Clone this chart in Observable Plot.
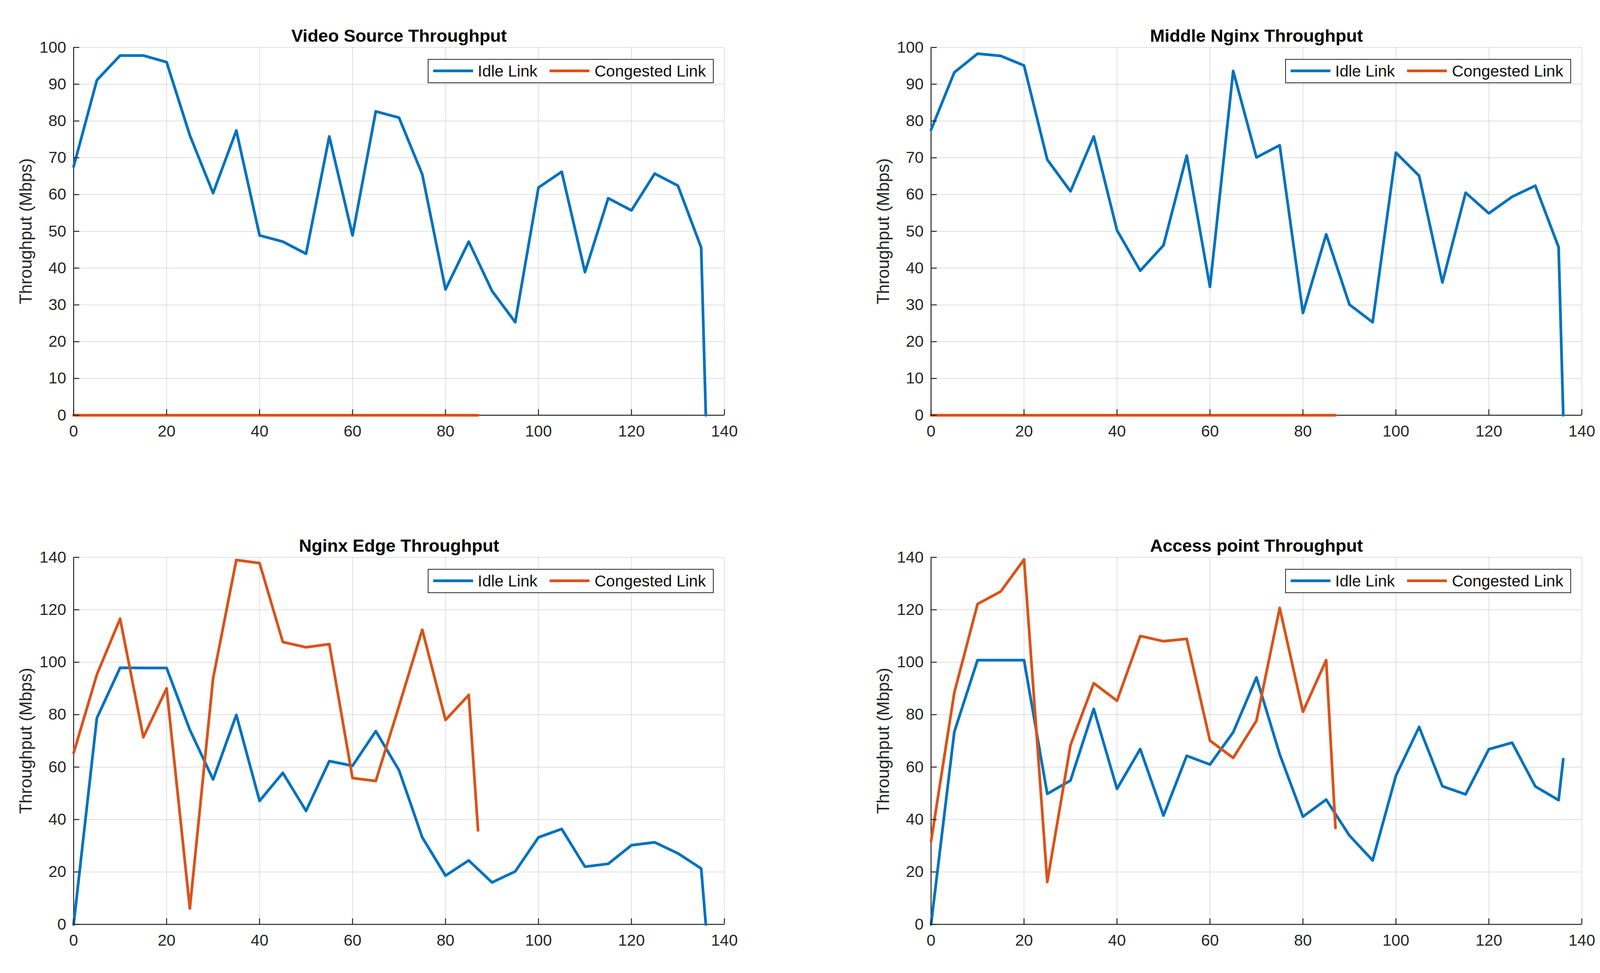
<!DOCTYPE html>
<html>
<head>
<meta charset="utf-8">
<script src="https://cdn.jsdelivr.net/npm/d3@7"></script>
<script src="https://cdn.jsdelivr.net/npm/@observablehq/plot@0.6"></script>
<style>
html, body { margin: 0; padding: 0; background: #fff; }
#root { position: relative; width: 4115px; height: 2492px; background: #fff; overflow: hidden;
  font-family: "Liberation Sans", Arial, Helvetica, sans-serif; }
.panel { position: absolute; }
.legend { position: absolute; box-sizing: border-box; border: 2px solid #262626; background: #fff;
  width: 732px; height: 62px; font-size: 41px; color: #111; }
.legend .sw { position: absolute; top: 25px; height: 7px; width: 102px; }
.legend .lb { position: absolute; top: 0; line-height: 58px; white-space: nowrap; }
</style>
</head>
<body>
<div id="root"></div>
<script>
// ---- data ----
const xIdle = [0,5,10,15,20,25,30,35,40,45,50,55,60,65,70,75,80,85,90,95,100,105,110,115,120,125,130,135,136];
const xCong = [0,5,10,15,20,25,30,35,40,45,50,55,60,65,70,75,80,85,87];

const videoIdle  = [67.6,91.1,97.8,97.8,96.0,76.1,60.4,77.4,48.9,47.2,43.9,75.8,48.9,82.6,80.9,65.5,34.2,47.2,33.8,25.3,61.9,66.2,38.9,59.0,55.7,65.7,62.4,45.6,0];
const videoCong  = [0,0,0,0,0,0,0,0,0,0,0,0,0,0,0,0,0,0,0];
const middleIdle = [77.6,93.2,98.3,97.7,95.1,69.5,60.9,75.8,50.3,39.3,46.2,70.6,34.9,93.6,70.1,73.4,27.8,49.2,30.1,25.3,71.4,65.1,36.1,60.5,54.9,59.4,62.4,45.7,0];
const middleCong = [0,0,0,0,0,0,0,0,0,0,0,0,0,0,0,0,0,0,0];
const edgeIdle   = [0,78.7,97.9,97.8,97.8,74.2,55.3,79.9,47.1,57.8,43.3,62.3,60.5,73.7,58.8,33.2,18.6,24.4,16.0,20.2,33.2,36.4,22.0,23.1,30.2,31.3,27.1,21.3,0];
const edgeCong   = [65.4,95.3,116.6,71.4,90.0,6.1,93.8,139.0,137.8,107.7,105.7,106.9,55.8,54.7,83.3,112.4,78.0,87.5,35.9];
const apIdle     = [0,73.4,100.8,100.8,100.8,49.8,54.9,82.2,51.7,66.9,41.5,64.3,61.0,73.3,94.2,64.9,41.1,47.6,33.9,24.4,56.7,75.3,52.7,49.6,66.8,69.3,52.6,47.4,63.0];
const apCong     = [31.7,88.4,122.2,127.0,139.2,16.2,68.4,92.0,85.3,110.0,108.0,108.9,70.1,63.5,77.7,120.7,81.1,100.8,36.8];

const xTicks = [0,20,40,60,80,100,120,140];
const yTicksTop = [0,10,20,30,40,50,60,70,80,90,100];
const yTicksBottom = [0,20,40,60,80,100,120,140];

const titles = ["Video Source Throughput", "Middle Nginx Throughput", "Nginx Edge Throughput", "Access point Throughput"];
const seriesNames = ["Idle Link", "Congested Link"];
const yLabel = "Throughput (Mbps)";
const colors = ["#0072BD", "#D95319"];

// ---- layout ----
const FRAME_W = 1666;
const panels = [
  {title: titles[0], idle: videoIdle,  cong: videoCong,  yMax: 100, yTicks: yTicksTop,    left: 0,    top: 0,    mL: 188, mT: 121, fh: 942},
  {title: titles[1], idle: middleIdle, cong: middleCong, yMax: 100, yTicks: yTicksTop,    left: 2057, top: 0,    mL: 326, mT: 121, fh: 942},
  {title: titles[2], idle: edgeIdle,   cong: edgeCong,   yMax: 140, yTicks: yTicksBottom, left: 0,    top: 1246, mL: 188, mT: 181, fh: 940},
  {title: titles[3], idle: apIdle,     cong: apCong,     yMax: 140, yTicks: yTicksBottom, left: 2057, top: 1246, mL: 326, mT: 181, fh: 940}
];

const root = document.getElementById("root");
const FONT = "Liberation Sans, Arial, Helvetica, sans-serif";
const INK = "#262626";

for (const p of panels) {
  const W = 2057, H = 1246;
  const idleData = xIdle.map((x, i) => ({x, y: p.idle[i]}));
  const congData = xCong.map((x, i) => ({x, y: p.cong[i]}));
  const chart = Plot.plot({
    width: W, height: H,
    marginLeft: p.mL, marginRight: W - p.mL - FRAME_W,
    marginTop: p.mT, marginBottom: H - p.mT - p.fh,
    x: {domain: [0, 140], label: null},
    y: {domain: [0, p.yMax], label: null},
    style: {background: "transparent", fontFamily: FONT, fontSize: "41px", color: INK, overflow: "visible"},
    marks: [
      Plot.gridX(xTicks, {stroke: INK, strokeOpacity: 0.15, strokeWidth: 2}),
      Plot.gridY(p.yTicks, {stroke: INK, strokeOpacity: 0.15, strokeWidth: 2}),
      Plot.ruleX([0], {stroke: INK, strokeWidth: 2.5}),
      Plot.ruleY([0], {stroke: INK, strokeWidth: 2.5}),
      Plot.line(idleData, {x: "x", y: "y", stroke: colors[0], strokeWidth: 7, strokeLinejoin: "round"}),
      Plot.line(congData, {x: "x", y: "y", stroke: colors[1], strokeWidth: 7, strokeLinejoin: "round"}),
      Plot.axisX(xTicks, {tickSize: -15, tickPadding: 40, fontSize: 41, stroke: INK, strokeWidth: 2.5, fill: INK, label: null}),
      Plot.axisY(p.yTicks, {tickSize: -15, tickPadding: 34, fontSize: 41, stroke: INK, strokeWidth: 2.5, fill: INK, label: null}),
      Plot.text([p.title], {text: d => d, frameAnchor: "top", textAnchor: "middle", dy: -15, lineAnchor: "bottom", fontWeight: "bold", fontSize: 45, fill: "#000"}),
      Plot.text([yLabel], {text: d => d, frameAnchor: "left", textAnchor: "middle", lineAnchor: "middle", dx: -122, rotate: -90, fontSize: 44, fill: INK})
    ]
  });
  chart.classList.add("panel");
  chart.style.left = p.left + "px";
  chart.style.top = p.top + "px";
  root.appendChild(chart);

  // legend
  const lg = document.createElement("div");
  lg.className = "legend";
  lg.style.left = (p.left + p.mL + FRAME_W - 27 - 732) + "px";
  lg.style.top = (p.top + p.mT + 30) + "px";
  const offs = [[12, 126], [310, 425]];
  seriesNames.forEach((name, i) => {
    const sw = document.createElement("div");
    sw.className = "sw";
    sw.style.left = offs[i][0] + "px";
    sw.style.background = colors[i];
    const lb = document.createElement("div");
    lb.className = "lb";
    lb.style.left = offs[i][1] + "px";
    lb.textContent = name;
    lg.appendChild(sw);
    lg.appendChild(lb);
  });
  root.appendChild(lg);
}
</script>
</body>
</html>
